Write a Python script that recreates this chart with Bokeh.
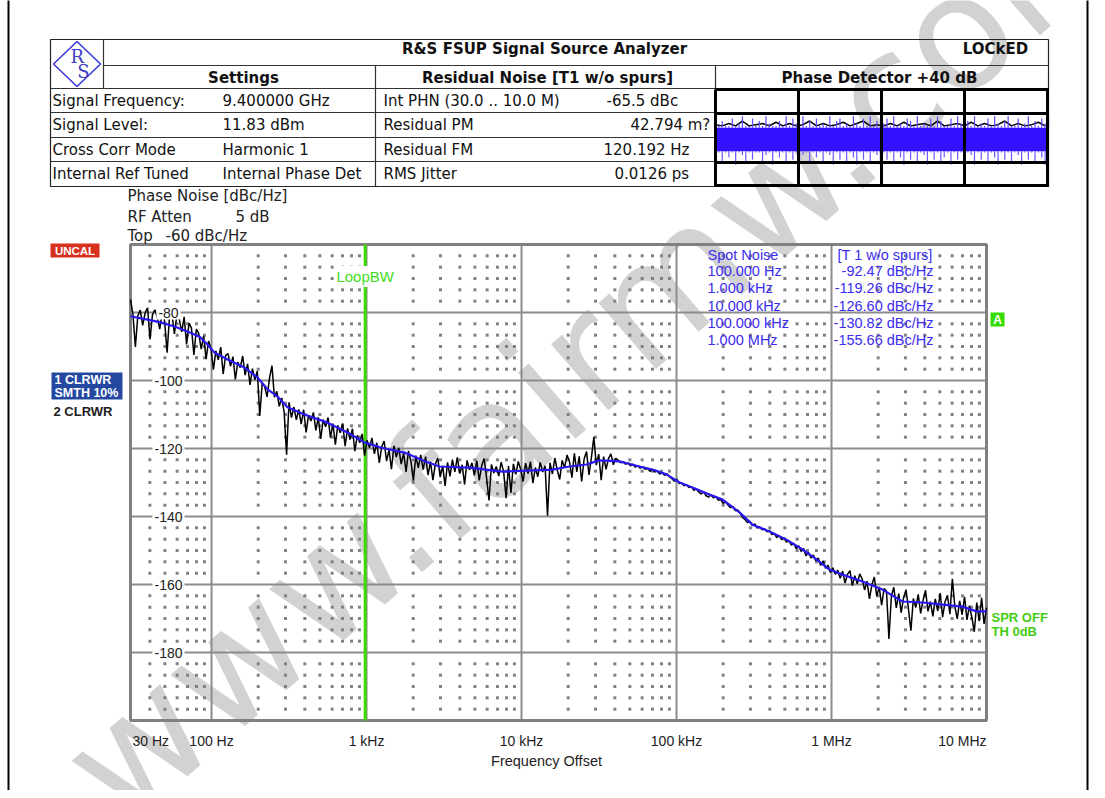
import numpy as np
from bokeh.plotting import figure
from bokeh.models import Range1d, LogScale, Label
from bokeh.embed import file_html
from bokeh.resources import INLINE

# ---------------- data ----------------
F_MIN, F_MAX = 30, 1e7
Y_MIN, Y_MAX = -200, -60
X_TICKS = [30, 100, 1e3, 1e4, 1e5, 1e6, 1e7]
X_TICK_LABELS = ["30 Hz", "100 Hz", "1 kHz", "10 kHz", "100 kHz", "1 MHz", "10 MHz"]
X_MAJOR = [100, 1e3, 1e4, 1e5, 1e6]
Y_TICKS = [-80, -100, -120, -140, -160, -180]
LOOP_BW = 980

SMOOTH_F = [30, 38.6, 46.9, 57.7, 70, 83.6, 94.2, 104.5, 126.8, 163,
            198, 230, 266, 309, 398, 560, 754, 970, 1231, 1758,
            2401, 2955, 4616, 7536, 15840, 20390, 26250, 31830, 42840, 57670,
            69960, 86130, 104500, 126800, 156000, 197900, 254800, 309000, 398000, 512000,
            650000, 800000, 970000, 1177000, 1584000, 2132000, 2869000, 3861000, 5198000, 6996000,
            8613000, 1e7]
SMOOTH_DB = [-81.1, -82.1, -82.9, -84.1, -85.6, -87.1, -89.4, -91.8, -93.8, -96.2,
             -99.1, -102.6, -104.7, -107.9, -110.0, -112.4, -115.3, -118.2, -119.7, -121.2,
             -123.8, -125.3, -125.6, -126.8, -126.2, -125.3, -124.7, -123.5, -123.8, -125.3,
             -126.2, -127.6, -130.0, -131.5, -133.2, -135.0, -138.8, -142.4, -144.4, -146.8,
             -149.7, -152.6, -155.6, -157.1, -159.1, -161.5, -165.0, -165.3, -165.9, -166.5,
             -167.9, -167.9]

# raw trace (trace 2), sweep points log-spaced from 30 Hz to 10 MHz
RAW_DB = [
    -76.2, -80.5, -90.1, -81.0, -79.3, -83.8, -80.1, -78.6, -87.9, -80.7,
    -79.2, -81.5, -84.9, -79.8, -82.6, -91.8, -81.2, -80.4, -86.3, -80.9,
    -82.0, -85.7, -81.3, -89.4, -83.1, -84.6, -92.5, -84.9, -86.2, -90.8,
    -86.9, -93.7, -88.4, -90.6, -96.8, -91.3, -93.9, -90.2, -98.1, -92.6,
    -92.1, -95.8, -93.0, -99.7, -94.6, -96.2, -92.8, -98.4, -95.1, -101.3,
    -96.5, -99.8, -97.2, -110.4, -100.9, -101.7, -104.8, -99.3, -95.6, -104.9,
    -103.2, -107.6, -105.1, -109.3, -121.8, -106.4, -110.9, -107.8, -111.6, -108.5,
    -112.8, -108.6, -115.3, -110.2, -111.9, -109.4, -114.7, -110.8, -117.2, -111.5,
    -113.6, -110.9, -116.8, -112.7, -118.9, -113.2, -115.4, -112.6, -119.3, -114.1,
    -117.4, -114.2, -120.8, -116.1, -118.3, -115.7, -122.1, -117.6, -119.8, -116.9,
    -121.6, -118.3, -124.2, -119.5, -117.8, -123.7, -120.4, -126.1, -119.2, -122.5,
    -119.8, -124.6, -121.3, -126.9, -120.7, -123.8, -129.5, -122.1, -125.7, -121.9,
    -126.2, -122.4, -127.8, -123.9, -129.3, -124.6, -122.8, -128.4, -125.1, -131.0,
    -124.1, -128.2, -123.3, -126.9, -122.6, -127.4, -124.8, -130.6, -123.5, -126.3,
    -124.2, -127.9, -123.6, -129.4, -125.1, -122.9, -128.6, -135.3, -124.7, -127.2,
    -125.3, -128.1, -124.0, -126.8, -134.6, -125.2, -133.1, -124.5, -127.6, -123.8,
    -126.2, -129.7, -124.3, -127.4, -123.9, -130.2, -125.6, -128.3, -124.1, -126.9,
    -125.1, -139.8, -124.2, -127.5, -122.8, -126.4, -129.1, -123.5, -125.7, -121.9,
    -123.8, -128.6, -121.4, -126.9, -122.3, -129.7, -123.1, -120.9, -127.8, -122.6,
    -116.6, -124.9, -121.7, -129.3, -122.4, -126.1, -123.0, -121.6, -124.8, -122.9,
    -123.5, -124.2, -123.9, -124.6, -124.3, -125.1, -124.6, -125.5, -125.0, -125.8,
    -125.3, -126.1, -125.8, -126.7, -126.2, -126.9, -126.6, -127.5, -127.1, -127.9,
    -127.4, -128.3, -128.9, -129.6, -129.0, -130.3, -130.1, -131.0, -130.6, -131.5,
    -131.2, -132.3, -131.9, -132.8, -133.4, -132.7, -133.9, -134.3, -133.6, -134.5,
    -134.1, -135.2, -135.0, -136.1, -135.7, -136.6, -137.4, -137.0, -138.3, -138.1,
    -139.0, -140.3, -140.9, -141.8, -141.4, -142.7, -142.2, -143.4, -143.0, -143.9,
    -143.6, -144.5, -144.1, -145.3, -145.0, -146.2, -145.6, -146.8, -146.3, -147.5,
    -147.2, -148.4, -147.9, -149.5, -148.6, -150.3, -149.4, -151.6, -150.5, -152.2,
    -151.3, -153.0, -152.2, -154.4, -153.1, -155.2, -154.3, -156.5, -155.1, -157.0,
    -155.8, -158.2, -156.1, -159.6, -157.0, -155.9, -160.3, -157.4, -159.8, -156.9,
    -158.3, -161.6, -159.0, -164.2, -160.1, -157.8, -163.5, -160.7, -166.1, -161.2,
    -162.0, -176.0, -163.4, -160.8, -166.9, -162.7, -168.3, -163.9, -161.5, -167.2,
    -173.6, -164.1, -166.8, -162.9, -168.5, -164.6, -161.7, -167.9, -165.0, -169.4,
    -164.2, -167.8, -162.5, -169.6, -165.1, -163.2, -168.7, -158.3, -166.4, -170.1,
    -164.8, -168.9, -163.6, -170.4, -166.2, -169.7, -173.9, -165.3, -170.8, -163.9,
    -171.6, -166.8,
]

SPOT_F_LABELS = ["100.000 Hz", "1.000 kHz", "10.000 kHz", "100.000 kHz", "1.000 MHz"]
SPOT_VALUES = [-92.47, -119.26, -126.60, -130.82, -155.66]

SETTINGS_LABELS = ["Signal Frequency:", "Signal Level:", "Cross Corr Mode", "Internal Ref Tuned"]
SETTINGS_VALUES = ["9.400000 GHz", "11.83 dBm", "Harmonic 1", "Internal Phase Det"]
RESID_LABELS = ["Int PHN (30.0  .. 10.0 M)", "Residual PM", "Residual FM", "RMS Jitter"]
RESID_VALUES = ["-65.5 dBc", "42.794 m?", "120.192 Hz", "0.0126 ps"]

# phase detector mini-display (divisions, centre = 0)
PD_HI = [0.9, 0.5, 0.7, 0.5, 0.5, 0.8, 0.5, 0.6, 0.9, 0.5, 0.5, 0.8, 0.5, 0.7, 0.5, 0.9, 0.6, 0.5, 0.5, 0.7,
         0.5, 0.9, 0.5, 0.8, 0.6, 0.5, 0.9, 0.5, 0.7, 0.5, 0.8, 0.5, 0.6, 0.5, 0.9, 0.5, 0.7, 0.8, 0.5, 0.6,
         0.5, 0.9, 0.6, 0.5, 0.8, 0.5, 0.9, 0.5, 0.7, 0.5, 0.6, 0.8, 0.5, 0.9, 0.5, 0.6, 0.5, 0.8, 0.7, 0.5,
         0.9, 0.5, 0.6, 0.5, 0.8, 0.5, 0.9, 0.7, 0.5, 0.5, 0.8, 0.5, 0.9, 0.6, 0.5, 0.7, 0.5, 0.9, 0.5, 0.6,
         0.5, 0.8, 0.5, 0.9, 0.6, 0.5, 0.7, 0.9, 0.5, 0.5, 0.8, 0.5, 0.6, 0.9, 0.5, 0.7, 0.5, 0.8, 0.6, 0.9]
PD_LO = [-0.9, -0.6, -1.0, -0.6, -0.8, -0.6, -1.1, -0.6, -0.7, -1.0, -0.6, -0.9, -0.6, -0.6, -1.0, -0.7, -0.6, -1.1, -0.6, -0.8,
         -0.6, -1.0, -0.6, -0.9, -0.6, -1.1, -0.7, -0.6, -1.0, -0.6, -0.8, -0.6, -1.0, -0.6, -0.7, -1.1, -0.6, -0.9, -0.6, -1.0,
         -0.6, -0.8, -1.1, -0.6, -0.9, -0.6, -1.0, -0.6, -0.7, -1.1, -0.6, -0.9, -0.6, -1.0, -0.6, -0.8, -1.1, -0.6, -0.9, -0.6,
         -1.0, -0.6, -0.7, -1.1, -0.6, -0.9, -0.6, -1.0, -0.8, -0.6, -1.1, -0.6, -0.9, -0.6, -1.0, -0.6, -0.7, -1.1, -0.6, -0.9,
         -0.6, -1.0, -0.6, -0.8, -1.1, -0.6, -0.9, -0.6, -1.0, -0.6, -0.7, -1.1, -0.6, -0.9, -0.6, -1.0, -0.6, -0.8, -1.1, -0.6]
PD_BLACK = [0.55, 0.5, 0.6, 0.5, 0.7, 0.5, 0.55, 0.6, 0.5, 0.65, 0.5, 0.6, 0.5, 0.55, 0.7, 0.5, 0.6, 0.5, 0.55, 0.65,
            0.5, 0.6, 0.7, 0.5, 0.55, 0.5, 0.6, 0.5, 0.65, 0.5, 0.55, 0.6, 0.5, 0.7, 0.5, 0.55, 0.6, 0.5, 0.65, 0.5,
            0.6, 0.5, 0.55, 0.7, 0.5, 0.6, 0.5, 0.55, 0.65, 0.5]
PD_CORE = (-0.55, 0.42)

# ---------------- layout (screen pixels) ----------------
CW, CH = 1089, 790
PX0, PY0 = 1, 1              # screen position of the canvas origin
PL, PR, PT, PB = 131, 987, 245, 721   # chart frame
PDL, PDR, PDT, PDB = 716, 1049, 90, 187

p = figure(width=CW, height=CH, output_backend="svg", toolbar_location=None,
           x_axis_type=None, y_axis_type=None,
           x_range=Range1d(PX0, PX0 + CW), y_range=Range1d(PY0 + CH, PY0))
p.min_border = 0
p.min_border_left = p.min_border_right = p.min_border_top = p.min_border_bottom = 0
p.outline_line_color = None
p.background_fill_color = "white"
p.border_fill_color = "white"

pxdec = (PR - PL) / np.log10(F_MAX / F_MIN)
f_lo = 10 ** (np.log10(F_MIN) - (PL - PX0) / pxdec)
f_hi = 10 ** (np.log10(F_MAX) + (PX0 + CW - PR) / pxdec)
pxdb = (PB - PT) / (Y_MAX - Y_MIN)
db_lo = Y_MIN - (PY0 + CH - PB) / pxdb
db_hi = Y_MAX + (PT - PY0) / pxdb
n_pd = len(PD_HI)
pdx_per = (n_pd - 1) / (PDR - PDL)
pdy_per = 4.0 / (PDB - PDT)
p.extra_x_ranges = {"f": Range1d(f_lo, f_hi),
                    "pdx": Range1d(-(PDL - PX0) * pdx_per, (n_pd - 1) + (PX0 + CW - PDR) * pdx_per)}
p.extra_x_scales = {"f": LogScale()}
p.extra_y_ranges = {"db": Range1d(db_lo, db_hi),
                    "pdy": Range1d(-2 - (PY0 + CH - PDB) * pdy_per, 2 + (PDT - PY0) * pdy_per)}

FONT = "DejaVu Sans"
ARIAL = "Liberation Sans"


def lab(x, y, text, size=13, font=FONT, color="#111111", align="left", baseline="middle",
        style="normal", **kw):
    l = Label(x=x, y=y, text=text, text_font=font, text_font_size=f"{size}px",
              text_color=color, text_align=align, text_baseline=baseline,
              text_font_style=style, **kw)
    p.add_layout(l)
    return l


# watermark (underlay)
lab(88, 790, "www.fairmw.com", size=160, font=FONT, color="#d2d2d2",
    angle=np.deg2rad(41.0), level="underlay")

# page border lines
p.segment(x0=[9, PX0 + CW - 2], y0=[0, 0], x1=[9, PX0 + CW - 2], y1=[800, 800],
          line_color="black", line_width=2)

# ---------------- header table ----------------
TS = 15
row_y = [101, 125.5, 150, 174.5]
p.quad(left=51, right=1049, top=40, bottom=187, fill_color=None, line_color="#222222", line_width=1.2)
p.segment(x0=[104, 104, 51, 376, 716, 51, 51, 51],
          y0=[40, 66, 89, 66, 66, 113, 138, 162],
          x1=[104, 1049, 716, 376, 716, 716, 716, 716],
          y1=[89, 66, 89, 187, 187, 113, 138, 162],
          line_color="#333333", line_width=1.2)
# logo
p.patch(x=[77.5, 101, 77.5, 54], y=[42, 64.5, 87, 64.5], fill_color=None,
        line_color="#3a3ad8", line_width=1.6)
lab(71, 57, "R", size=18, font="DejaVu Serif", color="#4040c0")
lab(84, 72, "S", size=18, font="DejaVu Serif", color="#4040c0", align="center")

lab(545, 49, "R&S FSUP Signal Source Analyzer", size=TS, style="bold", align="center")
lab(996, 49, "LOCkED", size=TS, style="bold", align="center")
lab(244, 78, "Settings", size=TS, style="bold", align="center")
lab(548, 78, "Residual Noise [T1 w/o spurs]", size=TS, style="bold", align="center")
lab(880, 78, "Phase Detector +40 dB", size=TS, style="bold", align="center")
for i in range(4):
    lab(53, row_y[i], SETTINGS_LABELS[i], size=TS)
    lab(223, row_y[i], SETTINGS_VALUES[i], size=TS)
    lab(384, row_y[i], RESID_LABELS[i], size=TS)
val_x = [607, 631, 604, 615]
for i in range(4):
    lab(val_x[i], row_y[i], RESID_VALUES[i], size=TS)

# phase detector display
pd_idx = np.arange(n_pd)
p.line(x=np.arange(len(PD_BLACK)) * 2, y=PD_BLACK, x_range_name="pdx", y_range_name="pdy",
       line_color="black", line_width=1.5)
p.segment(x0=pd_idx, y0=[PD_CORE[1]] * n_pd, x1=pd_idx, y1=PD_HI,
          x_range_name="pdx", y_range_name="pdy", line_color="#5c48ff", line_width=1.2)
p.segment(x0=pd_idx, y0=[PD_CORE[0]] * n_pd, x1=pd_idx, y1=PD_LO,
          x_range_name="pdx", y_range_name="pdy", line_color="#6a58ff", line_width=1.2)
p.quad(left=[0], right=[n_pd - 1], bottom=[PD_CORE[0]], top=[PD_CORE[1]],
       x_range_name="pdx", y_range_name="pdy", fill_color="#3312ff", line_color=None)
pd_cols = [PDL, 799, 882, 965, PDR - 1]
pd_rows = [PDT, 114, 163, PDB - 1]
p.segment(x0=pd_cols, y0=[PDT] * 5, x1=pd_cols, y1=[PDB] * 5, line_color="black", line_width=3)
p.segment(x0=[PDL] * 4, y0=pd_rows, x1=[PDR] * 4, y1=pd_rows, line_color="black", line_width=3)

# ---------------- chart header texts ----------------
lab(128, 196, "Phase Noise [dBc/Hz]", size=15, color="#222222")
lab(128, 217, "RF Atten", size=15, color="#222222")
lab(236, 217, "5 dB", size=15, color="#222222")
lab(128, 236, "Top", size=15, color="#222222")
lab(166, 236, "-60 dBc/Hz", size=15, color="#222222")

p.quad(left=51, right=100, top=244, bottom=258, fill_color="#d8301e", line_color=None)
lab(75.5, 251.5, "UNCAL", size=11.5, font=ARIAL, color="white", style="bold", align="center")
p.quad(left=52, right=123, top=373, bottom=400, fill_color="#2448a0", line_color=None)
lab(55, 380, "1 CLRWR", size=12.5, font=ARIAL, color="white", style="bold")
lab(55, 393, "SMTH 10%", size=12.5, font=ARIAL, color="white", style="bold")
lab(54, 412, "2 CLRWR", size=13, font=ARIAL, color="#222222", style="bold")

# ---------------- chart ----------------
kw = dict(x_range_name="f", y_range_name="db")
minor_x = [m * 10 ** d for d in range(1, 7) for m in range(2, 10) if F_MIN < m * 10 ** d < F_MAX]
minor_y = [Y_MAX - k * 20 / 6 for k in range(1, 42) if k % 6 != 0]
mx, my = np.meshgrid(minor_x, minor_y)
p.scatter(x=mx.ravel(), y=my.ravel(), marker="square", size=3, fill_color="#80808a",
          line_color=None, **kw)
p.segment(x0=X_MAJOR, y0=[Y_MIN] * len(X_MAJOR), x1=X_MAJOR, y1=[Y_MAX] * len(X_MAJOR),
          line_color="#8c8c8c", line_width=2, **kw)
p.segment(x0=[F_MIN] * len(Y_TICKS), y0=Y_TICKS, x1=[F_MAX] * len(Y_TICKS), y1=Y_TICKS,
          line_color="#8c8c8c", line_width=2, **kw)
p.quad(left=[F_MIN], right=[F_MAX], bottom=[Y_MIN], top=[Y_MAX], fill_color=None,
       line_color="#808080", line_width=3, **kw)

# loop bandwidth marker
p.segment(x0=[LOOP_BW], y0=[Y_MIN], x1=[LOOP_BW], y1=[Y_MAX], line_color="#3ddc00",
          line_width=3, **kw)
lab(LOOP_BW, 277, "LoopBW", size=15, font=ARIAL, color="#44dd22", align="center",
    x_range_name="f", background_fill_color="white", padding=2)

# traces
raw_f = np.geomspace(F_MIN, F_MAX, len(RAW_DB))
p.line(x=raw_f, y=RAW_DB, line_color="black", line_width=1.5, **kw)
p.line(x=SMOOTH_F, y=SMOOTH_DB, line_color="#2a18f0", line_width=2.2, **kw)

# y tick labels (inside the frame)
for v in Y_TICKS:
    lab(169, v, f"{v}", size=14, font=ARIAL, color="#222222", align="center",
        y_range_name="db", background_fill_color="white", padding=2)

# x tick labels
for i, (f, t) in enumerate(zip(X_TICKS, X_TICK_LABELS)):
    al = "left" if i == 0 else ("right" if i == len(X_TICKS) - 1 else "center")
    xx = f * 1.03 if i == 0 else f
    lab(xx, 741, t, size=14, font=ARIAL, color="#222222", align=al, x_range_name="f")
lab(547, 761, "Frequency Offset", size=14.5, font=ARIAL, color="#222222", align="center")

# spot noise table
SPOT_BLUE = "#3b2cf0"
SP = 14.5
spot_y = [271, 288, 306, 323, 340]
lab(708, 255, "Spot Noise", size=SP, font=ARIAL, color=SPOT_BLUE)
lab(838, 255, "[T 1 w/o spurs]", size=SP, font=ARIAL, color=SPOT_BLUE)
for i in range(5):
    lab(708, spot_y[i], SPOT_F_LABELS[i], size=SP, font=ARIAL, color=SPOT_BLUE)
    lab(934, spot_y[i], f"{SPOT_VALUES[i]:.2f} dBc/Hz", size=SP, font=ARIAL,
        color=SPOT_BLUE, align="right")

# right-side markers
p.quad(left=991, right=1005, top=313, bottom=327, fill_color="#33dd00", line_color=None)
lab(998, 320.5, "A", size=12, font=ARIAL, color="white", style="bold", align="center")
lab(992, 618, "SPR OFF", size=13, font=ARIAL, color="#44cc11", style="bold")
lab(992, 632, "TH 0dB", size=13, font=ARIAL, color="#44cc11", style="bold")

open("out.html", "w").write(file_html(p, INLINE))
